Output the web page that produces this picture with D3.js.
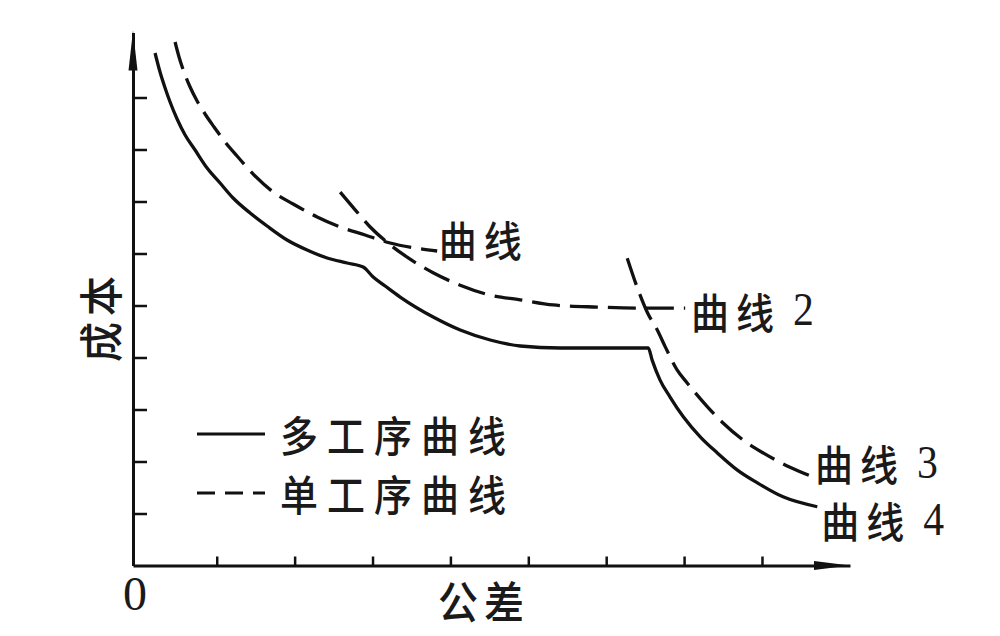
<!DOCTYPE html>
<html><head><meta charset="utf-8">
<script src="https://cdn.jsdelivr.net/npm/d3@7"></script>
<style>html,body{margin:0;padding:0;background:#fff;}svg{display:block;}</style>
</head><body>
<svg id="chart" width="1000" height="636"></svg>
<script>
// ---- data (x: tolerance in tick units, y: cost in tick units) ----
const xTicks = [1, 2, 3, 4, 5, 6, 7, 8];
const yTicks = [1, 2, 3, 4, 5, 6, 7, 8, 9];

// 多工序曲线 (solid) — ends as 曲线 4
const multiX = [0.208,0.272,0.337,0.401,0.491,0.594,0.722,0.876,1.043,1.21,1.428,1.646,1.903,2.16,2.417,2.674,2.88,3.008,3.162,3.355,3.779,4.126,4.511,4.897,5.41,5.924,6.54,6.59,6.69,6.82,6.99,7.21,7.43,7.68,7.94,8.27,8.71];
const multiY = [9.856,9.49,9.183,8.913,8.587,8.279,7.99,7.644,7.356,7.067,6.779,6.529,6.26,6.067,5.913,5.817,5.74,5.548,5.375,5.163,4.779,4.529,4.337,4.221,4.183,4.183,4.183,3.95,3.57,3.24,2.86,2.47,2.16,1.84,1.59,1.32,1.13];

// 单工序曲线 (dashed) — 曲线 (1)
const c1X = [0.465,0.516,0.58,0.658,0.748,0.85,0.966,1.107,1.261,1.492,1.724,1.981,2.289,2.584,2.905,3.226,3.547,3.83];
const c1Y = [10.067,9.779,9.49,9.202,8.933,8.683,8.433,8.144,7.875,7.49,7.183,6.952,6.702,6.51,6.356,6.202,6.106,6.048];
// 曲线 2
const c2X = [2.585,2.777,2.97,3.2,3.444,3.778,4.125,4.51,4.896,5.32,5.885,6.475,7.014];
const c2Y = [7.18,6.84,6.51,6.20,5.93,5.63,5.39,5.20,5.11,5.01,4.97,4.95,4.95];
// 曲线 3
const c3X = [6.27,6.41,6.53,6.656,6.76,6.91,7.04,7.30,7.50,7.76,8.02,8.36,8.66];
const c3Y = [5.91,5.30,4.86,4.53,4.20,3.76,3.51,3.05,2.74,2.41,2.16,1.89,1.70];

const curveLabels = ["曲线", "曲线 2", "曲线 3", "曲线 4"];
const legendLabels = ["多工序曲线", "单工序曲线"];
const xTitle = "公差";
const yTitle = "成本";
const originLabel = "0";

// ---- drawing ----
const svg = d3.select("#chart");
const ink = "#111";
const x = d3.scaleLinear().domain([-0.075, 9.13]).range([133, 850]);
const y = d3.scaleLinear().domain([0, 10.25]).range([565.5, 32.5]);

const line = d3.line().x(d => x(d[0])).y(d => y(d[1])).curve(d3.curveMonotoneX);
const zip = (a, b) => a.map((v, i) => [v, b[i]]);

// axes
const gx = svg.append("g").attr("transform", `translate(0,${y(0)})`)
  .call(d3.axisTop(x).tickValues(xTicks).tickSize(9).tickSizeOuter(0).tickFormat(""));
const gy = svg.append("g").attr("transform", `translate(${x(-0.075)},0)`)
  .call(d3.axisRight(y).tickValues(yTicks).tickSize(14).tickSizeOuter(0).tickFormat(""));
[gx, gy].forEach(g => {
  g.selectAll("path.domain").attr("stroke", ink).attr("stroke-width", 3);
  g.selectAll(".tick line").attr("stroke", ink).attr("stroke-width", 2.5);
});
// arrowheads
const x0 = x(-0.075), y0 = y(0), xEnd = x(9.13), yTop = y(10.25);
svg.append("path").attr("fill", ink)
  .attr("d", `M${x0},${yTop - 2} L${x0 - 4.5},${yTop + 38} L${x0 + 4.5},${yTop + 38} Z`);
svg.append("path").attr("fill", ink)
  .attr("d", `M${xEnd},${y0} L${xEnd - 36},${y0 - 4.5} L${xEnd - 36},${y0 + 4.5} Z`);

// curves
svg.append("path").attr("d", line(zip(multiX, multiY)))
  .attr("fill", "none").attr("stroke", ink).attr("stroke-width", 3.3);
[[c1X, c1Y], [c2X, c2Y], [c3X, c3Y]].forEach(([a, b]) => {
  svg.append("path").attr("d", line(zip(a, b)))
    .attr("fill", "none").attr("stroke", ink).attr("stroke-width", 3.3)
    .attr("stroke-dasharray", "28,10");
});

// text helper
const cjk = "'Noto Sans CJK SC', 'Noto Sans CJK JP', sans-serif";
const serif = "'Liberation Serif', 'DejaVu Serif', serif";
function label(str, tx, ty, opts = {}) {
  const size = opts.size || 38;
  const g = svg.append("g").attr("transform",
    `translate(${tx},${ty}) rotate(${opts.rotate || 0}) scale(1,1.12)`);
  const t = g.append("text").attr("fill", "#1a1a1a").attr("font-size", size)
    .attr("font-weight", 500)
    .attr("dominant-baseline", "central").attr("text-anchor", opts.anchor || "start")
    .attr("font-family", cjk).attr("letter-spacing", opts.ls == null ? 7 : opts.ls);
  const m = str.match(/^(\D*?)(\s*)(\d*)$/);
  t.append("tspan").text(m[1]);
  if (m[3]) {
    t.append("tspan").attr("font-family", serif).attr("font-size", size * 1.1)
      .attr("dx", 12).text(m[3]);
  }
  return t;
}

// curve labels
label(curveLabels[0], x(3.85), y(6.3));
label(curveLabels[1], x(7.09), y(4.92));
label(curveLabels[2], x(8.68), y(1.99));
label(curveLabels[3], x(8.76), y(0.9));

// legend
const legLines = [null, "18,10"];
legendLabels.forEach((txt, i) => {
  const ly = 434 + i * 59;
  svg.append("line").attr("x1", 197).attr("x2", 265).attr("y1", ly).attr("y2", ly)
    .attr("stroke", ink).attr("stroke-width", 3)
    .attr("stroke-dasharray", legLines[i]);
  label(txt, 280, ly - 1, { ls: 9 });
});

// axis titles
label(xTitle, 484, 599, { anchor: "middle", size: 40, ls: 6 });
label(yTitle, 98, 316, { anchor: "middle", rotate: -90, size: 40, ls: 6 });
svg.append("text").attr("x", 135).attr("y", 610).attr("text-anchor", "middle")
  .attr("font-family", serif).attr("font-size", 48).attr("fill", "#1a1a1a").text(originLabel);
</script>
</body></html>
